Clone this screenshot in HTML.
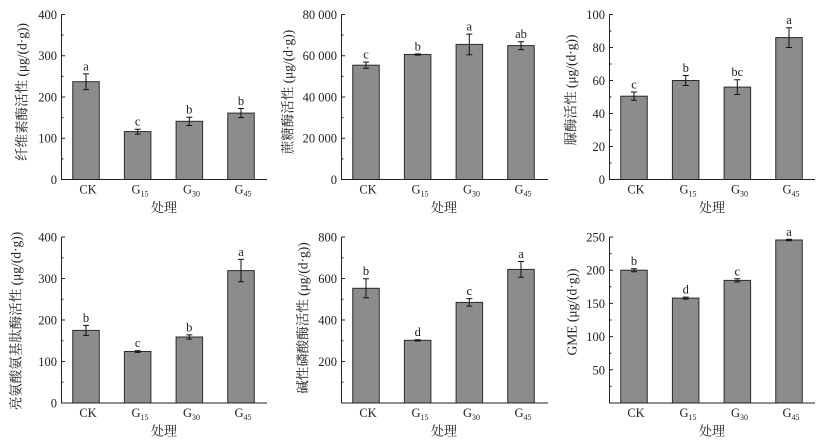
<!DOCTYPE html>
<html><head><meta charset="utf-8"><style>
html,body{margin:0;padding:0;background:#fff;}
svg{display:block;}
text{font-family:"Liberation Serif","Noto Serif CJK SC",serif;fill:#222;}
.t{font-size:12.5px;text-anchor:end;}
.c{font-size:12.5px;text-anchor:middle;}
.l{font-size:12.5px;text-anchor:middle;}
.x{font-size:13px;text-anchor:middle;}
.y{font-size:13.5px;text-anchor:middle;dominant-baseline:central;}
.bar{fill:#8c8c8c;stroke:#2a2a2a;stroke-width:1;}
.ax{stroke:#222;stroke-width:1;fill:none;}
.e{stroke:#111;stroke-width:1;fill:none;}
</style></head><body>
<svg width="821" height="446" viewBox="0 0 821 446" xmlns="http://www.w3.org/2000/svg">
<rect width="821" height="446" fill="#fff"/>

<!-- Panel 1 -->
<g>
<rect class="bar" x="72.75" y="81.7" width="26.5" height="97.8"/>
<rect class="bar" x="124.4" y="131.6" width="26.5" height="47.9"/>
<rect class="bar" x="176.1" y="121.3" width="26.5" height="58.2"/>
<rect class="bar" x="227.75" y="113.1" width="26.5" height="66.4"/>
<path class="e" d="M86 73.9V89.6M83 73.9H89M83 89.6H89 M137.7 129.2V134.1M134.7 129.2H140.7M134.7 134.1H140.7 M189.3 117.2V125.5M186.3 117.2H192.3M186.3 125.5H192.3 M241 108.5V117.6M238 108.5H244M238 117.6H244"/>
<path class="ax" d="M61.5 14.5V179.5H267 M61.5 14.5H65 M61.5 55.75H65 M61.5 97H65 M61.5 138.25H65 M61.5 35.1H63.5 M61.5 76.4H63.5 M61.5 117.6H63.5 M61.5 158.9H63.5"/>
<text class="t" x="57" y="184">0</text>
<text class="t" x="57" y="142.7">100</text>
<text class="t" x="57" y="101.5">200</text>
<text class="t" x="57" y="60.2">300</text>
<text class="t" x="57" y="19">400</text>
<text class="l" x="86" y="70.4">a</text>
<text class="l" x="137.7" y="125.7">c</text>
<text class="l" x="189.3" y="113.7">b</text>
<text class="l" x="241" y="105">b</text>
<text class="c" x="88" y="193.5">CK</text>
<text class="c" x="140" y="193.5">G<tspan font-size="8" dy="3">15</tspan></text>
<text class="c" x="191.5" y="193.5">G<tspan font-size="8" dy="3">30</tspan></text>
<text class="c" x="243" y="193.5">G<tspan font-size="8" dy="3">45</tspan></text>
<text class="x" x="164" y="212">处理</text>
<text class="y" transform="translate(22,92) rotate(-90)">纤维素酶活性 (μg/(d·g))</text>
</g>

<!-- Panel 2 -->
<g>
<rect class="bar" x="352.75" y="65.2" width="26.5" height="114.3"/>
<rect class="bar" x="404.4" y="54.5" width="26.5" height="125"/>
<rect class="bar" x="456.1" y="44.4" width="26.5" height="135.1"/>
<rect class="bar" x="507.75" y="45.6" width="26.5" height="133.9"/>
<path class="e" d="M366 62.1V68.3M363 62.1H369M363 68.3H369 M417.7 53.9V55.1M414.7 53.9H420.7M414.7 55.1H420.7 M469.3 34.1V54.7M466.3 34.1H472.3M466.3 54.7H472.3 M521 41.7V49.6M518 41.7H524M518 49.6H524"/>
<path class="ax" d="M341.5 14.5V179.5H548 M341.5 14.5H345 M341.5 55.75H345 M341.5 97H345 M341.5 138.25H345 M341.5 35.1H343.5 M341.5 76.4H343.5 M341.5 117.6H343.5 M341.5 158.9H343.5"/>
<text class="t" x="337" y="184">0</text>
<text class="t" x="337" y="142.7">20 000</text>
<text class="t" x="337" y="101.5">40 000</text>
<text class="t" x="337" y="60.2">60 000</text>
<text class="t" x="337" y="19">80 000</text>
<text class="l" x="366" y="58.6">c</text>
<text class="l" x="417.7" y="50.4">b</text>
<text class="l" x="469.3" y="30.6">a</text>
<text class="l" x="521" y="38.2">ab</text>
<text class="c" x="368" y="193.5">CK</text>
<text class="c" x="420" y="193.5">G<tspan font-size="8" dy="3">15</tspan></text>
<text class="c" x="471.5" y="193.5">G<tspan font-size="8" dy="3">30</tspan></text>
<text class="c" x="523" y="193.5">G<tspan font-size="8" dy="3">45</tspan></text>
<text class="x" x="444" y="212">处理</text>
<text class="y" transform="translate(288,92) rotate(-90)">蔗糖酶活性 (μg/(d·g))</text>
</g>

<!-- Panel 3 -->
<g>
<rect class="bar" x="620.75" y="96.2" width="26.5" height="83.3"/>
<rect class="bar" x="672.4" y="80.5" width="26.5" height="99"/>
<rect class="bar" x="724.1" y="87.1" width="26.5" height="92.4"/>
<rect class="bar" x="775.75" y="37.6" width="26.5" height="141.9"/>
<path class="e" d="M634 92.05V100.3M631 92.05H637M631 100.3H637 M685.7 75.55V85.45M682.7 75.55H688.7M682.7 85.45H688.7 M737.3 79.7V94.5M734.3 79.7H740.3M734.3 94.5H740.3 M789 27.7V47.5M786 27.7H792M786 47.5H792"/>
<path class="ax" d="M609.5 14.5V179.5H815 M609.5 14.5H613 M609.5 47.5H613 M609.5 80.5H613 M609.5 113.5H613 M609.5 146.5H613 M609.5 31H611.5 M609.5 64H611.5 M609.5 97H611.5 M609.5 130H611.5 M609.5 163H611.5"/>
<text class="t" x="605" y="184">0</text>
<text class="t" x="605" y="151">20</text>
<text class="t" x="605" y="118">40</text>
<text class="t" x="605" y="85">60</text>
<text class="t" x="605" y="52">80</text>
<text class="t" x="605" y="19">100</text>
<text class="l" x="634" y="88.5">c</text>
<text class="l" x="685.7" y="72">b</text>
<text class="l" x="737.3" y="76.2">bc</text>
<text class="l" x="789" y="24.2">a</text>
<text class="c" x="636" y="193.5">CK</text>
<text class="c" x="688" y="193.5">G<tspan font-size="8" dy="3">15</tspan></text>
<text class="c" x="739.5" y="193.5">G<tspan font-size="8" dy="3">30</tspan></text>
<text class="c" x="791" y="193.5">G<tspan font-size="8" dy="3">45</tspan></text>
<text class="x" x="712" y="212">处理</text>
<text class="y" transform="translate(571,90) rotate(-90)">脲酶活性 (μg/(d·g))</text>
</g>

<!-- Panel 4 -->
<g>
<rect class="bar" x="72.75" y="330.4" width="26.5" height="72.6"/>
<rect class="bar" x="124.4" y="351.5" width="26.5" height="51.5"/>
<rect class="bar" x="176.1" y="337" width="26.5" height="66"/>
<rect class="bar" x="227.75" y="270.6" width="26.5" height="132.4"/>
<path class="e" d="M86 325.4V335.4M83 325.4H89M83 335.4H89 M137.7 350.7V352.4M134.7 350.7H140.7M134.7 352.4H140.7 M189.3 334.9V339.1M186.3 334.9H192.3M186.3 339.1H192.3 M241 259.4V281.8M238 259.4H244M238 281.8H244"/>
<path class="ax" d="M61.5 237V403H267 M61.5 237H65 M61.5 278.5H65 M61.5 320H65 M61.5 361.5H65 M61.5 257.75H63.5 M61.5 299.25H63.5 M61.5 340.75H63.5 M61.5 382.25H63.5"/>
<text class="t" x="57" y="407.5">0</text>
<text class="t" x="57" y="366">100</text>
<text class="t" x="57" y="324.5">200</text>
<text class="t" x="57" y="283">300</text>
<text class="t" x="57" y="241.5">400</text>
<text class="l" x="86" y="321.9">b</text>
<text class="l" x="137.7" y="347.2">c</text>
<text class="l" x="189.3" y="331.4">b</text>
<text class="l" x="241" y="255.9">a</text>
<text class="c" x="88" y="417">CK</text>
<text class="c" x="140" y="417">G<tspan font-size="8" dy="3">15</tspan></text>
<text class="c" x="191.5" y="417">G<tspan font-size="8" dy="3">30</tspan></text>
<text class="c" x="243" y="417">G<tspan font-size="8" dy="3">45</tspan></text>
<text class="x" x="164" y="435.7">处理</text>
<text class="y" transform="translate(16,321) rotate(-90)">亮氨酸氨基肽酶活性 (μg/(d·g))</text>
</g>

<!-- Panel 5 -->
<g>
<rect class="bar" x="352.75" y="288.3" width="26.5" height="114.7"/>
<rect class="bar" x="404.4" y="340.3" width="26.5" height="62.7"/>
<rect class="bar" x="456.1" y="302.4" width="26.5" height="100.6"/>
<rect class="bar" x="507.75" y="269.4" width="26.5" height="133.6"/>
<path class="e" d="M366 278.7V297.8M363 278.7H369M363 297.8H369 M417.7 339.7V341M414.7 339.7H420.7M414.7 341H420.7 M469.3 298.6V306.1M466.3 298.6H472.3M466.3 306.1H472.3 M521 261.5V277.3M518 261.5H524M518 277.3H524"/>
<path class="ax" d="M341.5 237V403H548 M341.5 237H345 M341.5 278.5H345 M341.5 320H345 M341.5 361.5H345 M341.5 257.75H343.5 M341.5 299.25H343.5 M341.5 340.75H343.5 M341.5 382.25H343.5"/>
<text class="t" x="337" y="366">200</text>
<text class="t" x="337" y="324.5">400</text>
<text class="t" x="337" y="283">600</text>
<text class="t" x="337" y="241.5">800</text>
<text class="l" x="366" y="275.2">b</text>
<text class="l" x="417.7" y="336.2">d</text>
<text class="l" x="469.3" y="295.1">c</text>
<text class="l" x="521" y="258">a</text>
<text class="c" x="368" y="417">CK</text>
<text class="c" x="420" y="417">G<tspan font-size="8" dy="3">15</tspan></text>
<text class="c" x="471.5" y="417">G<tspan font-size="8" dy="3">30</tspan></text>
<text class="c" x="523" y="417">G<tspan font-size="8" dy="3">45</tspan></text>
<text class="x" x="444" y="435.7">处理</text>
<text class="y" transform="translate(303,318) rotate(-90)">碱性磷酸酶活性 (μg/(d·g))</text>
</g>

<!-- Panel 6 -->
<g>
<rect class="bar" x="620.75" y="270.2" width="26.5" height="132.8"/>
<rect class="bar" x="672.4" y="298.1" width="26.5" height="104.9"/>
<rect class="bar" x="724.1" y="280.4" width="26.5" height="122.6"/>
<rect class="bar" x="775.75" y="240" width="26.5" height="163"/>
<path class="e" d="M634 268.7V271.7M631 268.7H637M631 271.7H637 M685.7 297.1V299.1M682.7 297.1H688.7M682.7 299.1H688.7 M737.3 278.8V281.9M734.3 278.8H740.3M734.3 281.9H740.3 M789 239.3V240.7M786 239.3H792M786 240.7H792"/>
<path class="ax" d="M609.5 237V403H815 M609.5 237H613 M609.5 270.2H613 M609.5 303.4H613 M609.5 336.6H613 M609.5 369.8H613 M609.5 253.6H611.5 M609.5 286.8H611.5 M609.5 320H611.5 M609.5 353.2H611.5 M609.5 386.4H611.5"/>
<text class="t" x="605" y="374.3">50</text>
<text class="t" x="605" y="341.1">100</text>
<text class="t" x="605" y="307.9">150</text>
<text class="t" x="605" y="274.7">200</text>
<text class="t" x="605" y="241.5">250</text>
<text class="l" x="634" y="265.2">b</text>
<text class="l" x="685.7" y="293.6">d</text>
<text class="l" x="737.3" y="275.3">c</text>
<text class="l" x="789" y="235.8">a</text>
<text class="c" x="636" y="417">CK</text>
<text class="c" x="688" y="417">G<tspan font-size="8" dy="3">15</tspan></text>
<text class="c" x="739.5" y="417">G<tspan font-size="8" dy="3">30</tspan></text>
<text class="c" x="791" y="417">G<tspan font-size="8" dy="3">45</tspan></text>
<text class="x" x="712" y="435.7">处理</text>
<text class="y" transform="translate(572,312) rotate(-90)">GME (μg/(d·g))</text>
</g>
</svg>
</body></html>
